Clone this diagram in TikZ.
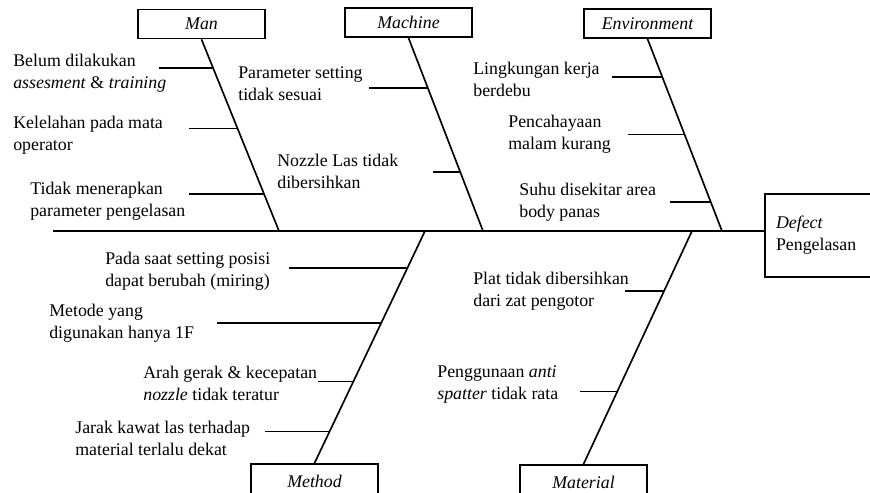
\documentclass[tikz,border=0pt]{standalone}
\usepackage{fontspec}
\setmainfont{Liberation Serif}
\usetikzlibrary{calc}
\tikzset{
  every picture/.append style={font=\fontsize{10.7}{13.2}\selectfont},
  catbox/.style={rectangle,draw,line width=1pt,minimum width=76.2pt,minimum height=17.4pt,inner sep=0pt,font=\fontsize{10.7}{13.2}\selectfont\itshape},
  effectbox/.style={rectangle,draw,line width=1pt,text width=52.8pt,inner xsep=6.6pt,inner ysep=0pt,minimum height=49.8pt,align=left},
  cause/.style={anchor=west,inner sep=0pt,align=left},
  bone/.style={line width=1pt},
  rib/.style={line width=1pt},
}

\begin{document}
\begin{tikzpicture}[x=0.6pt,y=-0.6pt]
  \path[use as bounding box,clip] (0,0) rectangle (870,493);

  \node[catbox] (man) at (201.5,24) {Man};
  \node[catbox] (machine) at (408.5,22.5) {Machine};
  \node[catbox] (environment) at (647.5,23.5) {Environment};
  \node[catbox,minimum height=20.4pt] (method) at (314.5,481) {Method};
  \node[catbox,minimum height=20.4pt] (material) at (583.5,482) {Material};
  \node[effectbox] (defect) at (820,235.5) {\textit{Defect}\\Pengelasan};

  \coordinate (tail) at (53,231);
  \coordinate (manE) at (279,231);
  \coordinate (machineE) at (483,231);
  \coordinate (environmentE) at (722,231);
  \coordinate (methodE) at (425,231);
  \coordinate (materialE) at (692,231);

  \draw[bone] (tail) -- (tail -| defect.west);
  \draw[bone] (man.south) -- (manE);
  \draw[bone] (machine.south) -- (machineE);
  \draw[bone] (environment.south) -- (environmentE);
  \draw[bone] (methodE) -- (method.north);
  \draw[bone] (materialE) -- (material.north);

  \foreach \f/\x [count=\i] in {0.150/159,0.466/189,0.808/189} {
    \coordinate (manB\i) at ($(man.south)!\f!(manE)$);
    \coordinate (manA\i) at (\x,0);
    \draw[rib] (manA\i |- manB\i) -- (manB\i);
  }
  \foreach \f/\x [count=\i] in {0.258/369,0.696/433} {
    \coordinate (machineB\i) at ($(machine.south)!\f!(machineE)$);
    \coordinate (machineA\i) at (\x,0);
    \draw[rib] (machineA\i |- machineB\i) -- (machineB\i);
  }
  \foreach \f/\x [count=\i] in {0.197/612,0.497/628,0.850/670} {
    \coordinate (environmentB\i) at ($(environment.south)!\f!(environmentE)$);
    \coordinate (environmentA\i) at (\x,0);
    \draw[rib] (environmentA\i |- environmentB\i) -- (environmentB\i);
  }
  \foreach \f/\x [count=\i] in {0.159/289,0.395/217,0.648/318,0.863/265} {
    \coordinate (methodB\i) at ($(methodE)!\f!(method.north)$);
    \coordinate (methodA\i) at (\x,0);
    \draw[rib] (methodA\i |- methodB\i) -- (methodB\i);
  }
  \foreach \f/\x [count=\i] in {0.256/625,0.688/580} {
    \coordinate (materialB\i) at ($(materialE)!\f!(material.north)$);
    \coordinate (materialA\i) at (\x,0);
    \draw[rib] (materialA\i |- materialB\i) -- (materialB\i);
  }

  \node[cause] (man1) at (13,73) {Belum dilakukan\\\textit{assesment} \& \textit{training}};
  \node[cause] (man2) at (13,135) {Kelelahan pada mata\\operator};
  \node[cause] (man3) at (30,201) {Tidak menerapkan\\parameter pengelasan};

  \node[cause] (machine1) at (238,84) {Parameter setting\\tidak sesuai};
  \node[cause] (machine2) at (277,171) {Nozzle Las tidak\\dibersihkan};

  \node[cause] (environment1) at (473,79) {Lingkungan kerja\\berdebu};
  \node[cause] (environment2) at (508,134) {Pencahayaan\\malam kurang};
  \node[cause] (environment3) at (519,202) {Suhu disekitar area\\body panas};

  \node[cause] (method1) at (105,271) {Pada saat setting posisi\\dapat berubah (miring)};
  \node[cause] (method2) at (49,323) {Metode yang\\digunakan hanya 1F};
  \node[cause] (method3) at (143,383) {Arah gerak \& kecepatan\\\textit{nozzle} tidak teratur};
  \node[cause] (method4) at (75,438) {Jarak kawat las terhadap\\material terlalu dekat};

  \node[cause] (material1) at (473,291) {Plat tidak dibersihkan\\dari zat pengotor};
  \node[cause] (material2) at (437,384) {Penggunaan \textit{anti}\\\textit{spatter} tidak rata};
\end{tikzpicture}
\end{document}
